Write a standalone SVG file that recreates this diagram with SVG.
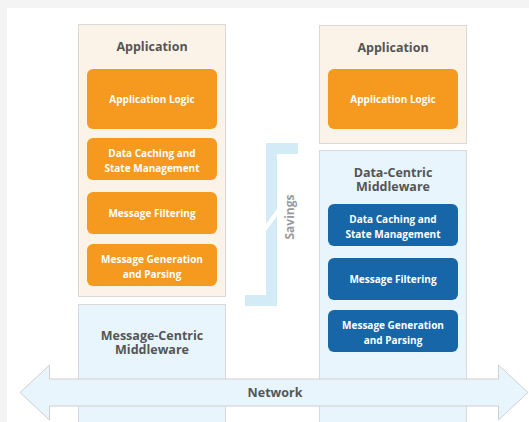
<svg xmlns="http://www.w3.org/2000/svg" width="529" height="422" viewBox="0 0 529 422">
<style>
.panel{fill:#fcf3e8;stroke:#d9d9d9;stroke-width:1}
.mw{fill:#e8f5fc;stroke:#d9d9d9;stroke-width:1}
.ob{fill:#f5991f}
.bb{fill:#1766a8}
.t{font-family:"Open Sans","Liberation Sans",sans-serif;font-weight:bold;text-anchor:middle}
.title{font-size:12.5px;fill:#555555}
.lbl{font-size:10px;fill:#ffffff}
.sav{fill:#d3eaf7}
</style>
<rect x="0" y="0" width="529" height="422" fill="#f4f4f4"/>
<rect x="7" y="8" width="522" height="414" fill="#ffffff"/>

<g id="savings">
<polygon class="sav" points="266,143 298,143 298,154 277,154 277,209 266,224"/>
<polygon class="sav" points="277,216 277,306 245,306 245,295 266,295 266,231"/>
<text class="t" font-size="12px" fill="#9a9a9a" font-weight="600" transform="translate(294,217) rotate(-90)">Savings</text>
</g>

<g id="left-app">
<rect class="panel" x="78.5" y="24.5" width="147" height="272"/>
<text class="t title" x="152" y="51">Application</text>
</g>
<g id="left-logic"><rect class="ob" x="87" y="69" width="130" height="60" rx="6"/><text class="t lbl" x="152" y="103">Application Logic</text></g>
<g id="left-caching"><rect class="ob" x="87" y="138" width="130" height="42" rx="6"/><text class="t lbl" x="152" y="157">Data Caching and</text><text class="t lbl" x="152" y="171.5">State Management</text></g>
<g id="left-filtering"><rect class="ob" x="87" y="192" width="130" height="42" rx="6"/><text class="t lbl" x="152" y="216.5">Message Filtering</text></g>
<g id="left-generation"><rect class="ob" x="87" y="244" width="130" height="42" rx="6"/><text class="t lbl" x="152" y="263">Message Generation</text><text class="t lbl" x="152" y="277.5">and Parsing</text></g>

<g id="left-mw">
<rect class="mw" x="78.5" y="304.5" width="147" height="130"/>
<text class="t title" x="152" y="339.5">Message-Centric</text>
<text class="t title" x="152" y="353.5">Middleware</text>
</g>

<g id="right-app">
<rect class="panel" x="319.5" y="25.5" width="147" height="118"/>
<text class="t title" x="393" y="52">Application</text>
</g>
<g id="right-logic"><rect class="ob" x="328" y="69" width="130" height="60" rx="6"/><text class="t lbl" x="393" y="103">Application Logic</text></g>

<g id="right-mw">
<rect class="mw" x="319.5" y="150.5" width="147" height="280"/>
<text class="t title" x="393" y="176.5">Data-Centric</text>
<text class="t title" x="393" y="190.5">Middleware</text>
</g>
<g id="right-caching"><rect class="bb" x="328" y="204" width="130" height="42" rx="6"/><text class="t lbl" x="393" y="223">Data Caching and</text><text class="t lbl" x="393" y="237.5">State Management</text></g>
<g id="right-filtering"><rect class="bb" x="328" y="258" width="130" height="42" rx="6"/><text class="t lbl" x="393" y="282.5">Message Filtering</text></g>
<g id="right-generation"><rect class="bb" x="328" y="310" width="130" height="42" rx="6"/><text class="t lbl" x="393" y="329">Message Generation</text><text class="t lbl" x="393" y="343.5">and Parsing</text></g>

<g id="connectors">
<g id="network">
<polygon points="20,392.5 49.5,365 49.5,379 498.5,379 498.5,365 528,392.5 498.5,420 498.5,406 49.5,406 49.5,420" fill="#e8f5fc" stroke="#d0d0d0" stroke-width="1"/>
<text class="t" font-size="12.5px" fill="#555555" x="275" y="397">Network</text>
</g>
</g>
</svg>
